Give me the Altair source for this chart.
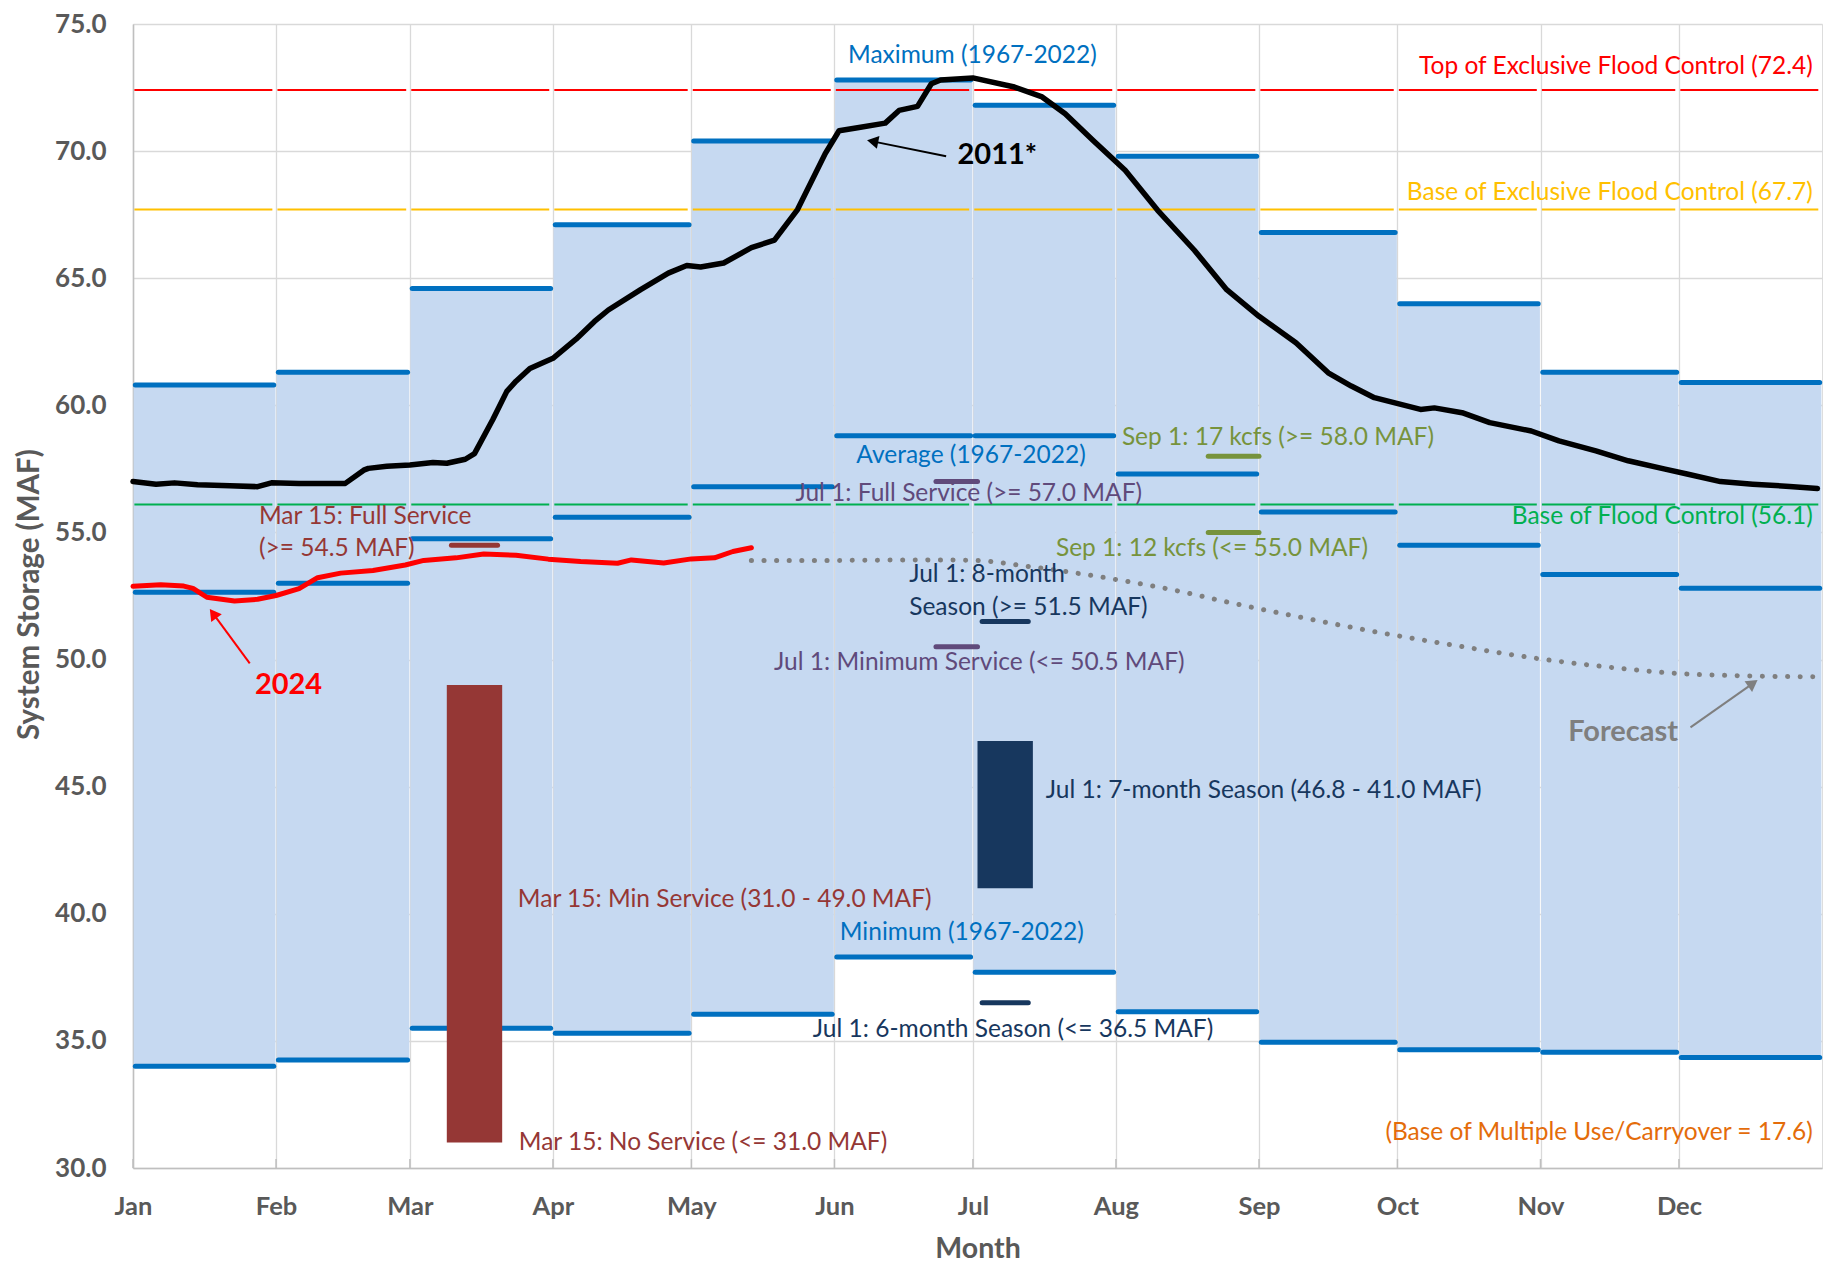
import math
import pandas as pd
import altair as alt

# ---------------- data ----------------
months = ["Jan", "Feb", "Mar", "Apr", "May", "Jun", "Jul", "Aug", "Sep", "Oct", "Nov", "Dec"]
month_starts = ["01-01", "02-01", "03-01", "04-01", "05-01", "06-01",
                "07-01", "08-01", "09-01", "10-01", "11-01", "12-01"]
max_1967_2022 = [60.8, 61.3, 64.6, 67.1, 70.4, 72.8, 71.8, 69.8, 66.8, 64.0, 61.3, 60.9]
avg_1967_2022 = [52.65, 53.0, 54.75, 55.6, 56.8, 58.8, 58.8, 57.3, 55.8, 54.5, 53.35, 52.8]
min_1967_2022 = [34.0, 34.25, 35.5, 35.3, 36.05, 38.3, 37.7, 36.15, 34.95, 34.65, 34.55, 34.35]

flood_levels = [72.4, 67.7, 56.1]
flood_names = ["Top of Exclusive Flood Control", "Base of Exclusive Flood Control", "Base of Flood Control"]

y2011_dates = ["01-01", "01-06", "01-10", "01-15", "01-22", "01-28", "01-31", "02-06", "02-16",
               "02-20", "02-21", "02-25", "03-01", "03-06", "03-09", "03-13", "03-15", "03-19",
               "03-22", "03-24", "03-27", "04-01", "04-06", "04-10", "04-13", "04-20", "04-26",
               "04-30", "05-03", "05-08", "05-14", "05-19", "05-24", "05-30", "06-02", "06-06",
               "06-12", "06-15", "06-19", "06-22", "06-24", "07-01", "07-10", "07-16", "07-21",
               "07-27", "08-03", "08-10", "08-18", "08-25", "09-01", "09-09", "09-16", "09-21",
               "09-26", "10-06", "10-09", "10-15", "10-21", "10-30", "11-05", "11-13", "11-20",
               "11-28", "12-03", "12-10", "12-17", "12-25", "12-31"]
y2011_vals = [57.0, 56.9, 56.95, 56.88, 56.84, 56.8, 56.95, 56.93, 56.93,
              57.45, 57.52, 57.6, 57.65, 57.75, 57.72, 57.88, 58.1, 59.45,
              60.55, 60.95, 61.45, 61.85, 62.6, 63.3, 63.75, 64.55, 65.2,
              65.5, 65.44, 65.6, 66.2, 66.5, 67.7, 69.9, 70.8, 70.92,
              71.1, 71.6, 71.76, 72.65, 72.8, 72.88, 72.52, 72.13, 71.47,
              70.43, 69.25, 67.68, 66.1, 64.55, 63.5, 62.46, 61.28, 60.76,
              60.3, 59.84, 59.9, 59.71, 59.32, 58.99, 58.6, 58.21, 57.82,
              57.49, 57.29, 57.0, 56.9, 56.81, 56.73]

y2024_dates = ["01-01", "01-07", "01-12", "01-14", "01-17", "01-23", "01-28", "02-01", "02-06",
               "02-10", "02-15", "02-22", "02-29", "03-04", "03-11", "03-17", "03-24", "03-31",
               "04-07", "04-15", "04-18", "04-25", "05-01", "05-06", "05-10", "05-14"]
y2024_vals = [52.88, 52.94, 52.89, 52.8, 52.45, 52.3, 52.37, 52.52, 52.79,
              53.22, 53.4, 53.5, 53.72, 53.9, 54.0, 54.15, 54.1, 53.95,
              53.86, 53.79, 53.92, 53.8, 53.96, 54.0, 54.25, 54.4]

forecast_dates = ["05-14", "06-01", "06-20", "07-01", "07-14", "07-31", "08-17", "08-23",
                  "09-09", "09-26", "10-13", "10-31", "11-17", "12-01", "12-15", "12-30"]
forecast_vals = [53.9, 53.9, 53.92, 53.9, 53.64, 53.18, 52.6, 52.35,
                 51.7, 51.1, 50.57, 50.05, 49.68, 49.45, 49.36, 49.32]

# service-level targets: (label, start, end, value, colour)
target_segments = [
    ("Mar 15: Full Service", "03-10", "03-20", 54.5, "#953735"),
    ("Jul 1: Full Service", "06-23", "07-02", 57.0, "#604A7B"),
    ("Jul 1: Minimum Service", "06-23", "07-02", 50.5, "#604A7B"),
    ("Jul 1: 8-month Season", "07-03", "07-13", 51.5, "#17375E"),
    ("Jul 1: 6-month Season", "07-03", "07-13", 36.5, "#17375E"),
    ("Sep 1: 17 kcfs", "08-21", "09-01", 58.0, "#77933C"),
    ("Sep 1: 12 kcfs", "08-21", "09-01", 55.0, "#77933C"),
]
target_bars = [
    ("Mar 15: Min Service", "03-09", "03-21", 31.0, 49.0, "#953735"),
    ("Jul 1: 7-month Season", "07-02", "07-14", 41.0, 46.8, "#17375E"),
]

# ---------------- layout constants ----------------
W, H = 1689, 1144
XD = [0, 366]
YD = [30, 75]
PX_DAY = W / (XD[1] - XD[0])
PX_MAF = H / (YD[1] - YD[0])
FONT = "Lato"
BLUE = "#0070C0"
TXT = 24.5
BOLD_TXT = 29


def doy(md):
    return pd.Timestamp(f"2024-{md}").dayofyear - 1


starts = [doy(m) for m in month_starts]
ends = starts[1:] + [366]

xs = alt.Scale(domain=XD, nice=False, zero=False)
ys = alt.Scale(domain=YD, nice=False, zero=False)

label_expr = "[" + ",".join(f"'{m}'" for m in months) + "][indexof([" + ",".join(str(s) for s in starts) + "], datum.value)]"

XAXIS = alt.Axis(values=starts, labelExpr=label_expr, title="Month", grid=True, gridColor="#D9D9D9",
                 gridWidth=1.3, domainColor="#BFBFBF", domainWidth=1.5, ticks=False, labelFlush=False,
                 labelFont=FONT, labelFontSize=25.5, labelFontWeight="bold", labelColor="#595959",
                 labelBaseline="middle", labelPadding=38, titleFont=FONT, titleFontSize=28.5,
                 titleFontWeight="bold", titleColor="#595959", titleX=W / 2, titleY=80,
                 titleBaseline="middle", titleAlign="center")
YAXIS = alt.Axis(values=list(range(30, 76, 5)), format=".1f", title="System Storage (MAF)", grid=True,
                 gridColor="#D9D9D9", gridWidth=1.3, domainColor="#BFBFBF", domainWidth=1.5, ticks=False,
                 labelFont=FONT, labelFontSize=26, labelFontWeight="bold", labelColor="#595959",
                 labelPadding=27, titleFont=FONT, titleFontSize=29.5, titleFontWeight="bold",
                 titleColor="#595959", titleX=-104, titleY=H / 2 - 2, titleAngle=270, titleAlign="center",
                 titleBaseline="middle")


def X(f):
    return alt.X(f, type="quantitative", scale=xs, axis=XAXIS)


def Y(f):
    return alt.Y(f, type="quantitative", scale=ys, axis=YAXIS)


# ---------------- tables ----------------
band = pd.DataFrame({"month": months, "s": [s + 0.13 for s in starts], "e": [e - 0.13 for e in ends],
                     "lo": min_1967_2022, "hi": max_1967_2022})

stat_rows = []
for i, m in enumerate(months):
    for kind, arr in (("max", max_1967_2022), ("avg", avg_1967_2022), ("min", min_1967_2022)):
        stat_rows.append({"month": m, "kind": kind, "s": starts[i] + 0.5, "e": ends[i] - 0.5, "v": arr[i]})
stats = pd.DataFrame(stat_rows)

flood_colors = ["#FF0000", "#FFC000", "#00B050"]
flood_rows = []
for lvl, name, col in zip(flood_levels, flood_names, flood_colors):
    for i in range(12):
        flood_rows.append({"name": name, "v": lvl, "s": starts[i] + 0.3, "e": ends[i] - 0.8, "c": col})
flood = pd.DataFrame(flood_rows)

seg = pd.DataFrame([{"name": n, "s": doy(a), "e": doy(b), "v": v, "c": c} for n, a, b, v, c in target_segments])
bars = pd.DataFrame([{"name": n, "s": doy(a), "e": doy(b), "lo": lo, "hi": hi, "c": c}
                     for n, a, b, lo, hi, c in target_bars])

s2011 = pd.DataFrame({"d": [doy(d) for d in y2011_dates], "v": y2011_vals})
s2024 = pd.DataFrame({"d": [doy(d) for d in y2024_dates], "v": y2024_vals})
sfc = pd.DataFrame({"d": [doy(d) for d in forecast_dates], "v": forecast_vals})

ticks = pd.DataFrame({"d": starts, "v": [30.0] * 12, "v2": [30.0 + 9 / PX_MAF] * 12})

# ---------------- layers ----------------
layers = []
layers.append(alt.Chart(band).mark_rect(color="#C6D9F1").encode(x=X("s"), x2="e", y=Y("lo"), y2="hi"))
layers.append(alt.Chart(ticks).mark_rule(color="#BFBFBF", strokeWidth=1.5).encode(x=X("d"), y=Y("v"), y2="v2"))
layers.append(alt.Chart(flood).mark_rule(strokeWidth=2).encode(
    x=X("s"), x2="e", y=Y("v"), color=alt.Color("c:N", scale=None)))
layers.append(alt.Chart(stats).mark_rule(strokeWidth=5, strokeCap="round", color=BLUE).encode(
    x=X("s"), x2="e", y=Y("v")))
layers.append(alt.Chart(bars).mark_rect().encode(
    x=X("s"), x2="e", y=Y("lo"), y2="hi", color=alt.Color("c:N", scale=None)))
layers.append(alt.Chart(seg).mark_rule(strokeWidth=5, strokeCap="round").encode(
    x=X("s"), x2="e", y=Y("v"), color=alt.Color("c:N", scale=None)))
layers.append(alt.Chart(sfc).mark_line(color="#7F7F7F", strokeWidth=5, strokeDash=[0.1, 12.5],
                                       strokeCap="round", interpolate="monotone").encode(x=X("d"), y=Y("v")))
layers.append(alt.Chart(s2011).mark_line(color="black", strokeWidth=5.5, strokeJoin="round",
                                         strokeCap="round").encode(x=X("d"), y=Y("v")))
layers.append(alt.Chart(s2024).mark_line(color="#FF0000", strokeWidth=5, strokeJoin="round",
                                         strokeCap="round").encode(x=X("d"), y=Y("v")))

# arrows: (from x,y) -> (tip x,y)
arrows = [
    ((176.2, 69.8), (159.0, 70.43), "black"),
    ((25.3, 49.85), (16.6, 52.0), "#FF0000"),
    ((337.5, 47.33), (352.1, 49.2), "#7F7F7F"),
]
arr_rows, head_rows = [], []
for (x0, y0), (x1, y1), col in arrows:
    dx = (x1 - x0) * PX_DAY
    dy = -(y1 - y0) * PX_MAF
    L = math.hypot(dx, dy)
    ux, uy = dx / L, dy / L
    back = 6.0
    hx = x1 - ux * back / PX_DAY
    hy = y1 + uy * back / PX_MAF
    ang = math.degrees(math.atan2(dx, -dy)) % 360
    arr_rows.append({"x": x0, "y": y0, "x2": hx, "y2": hy, "c": col})
    head_rows.append({"x": hx, "y": hy, "a": ang, "c": col})
layers.append(alt.Chart(pd.DataFrame(arr_rows)).mark_rule(strokeWidth=2).encode(
    x=X("x"), x2="x2", y=Y("y"), y2="y2", color=alt.Color("c:N", scale=None)))
layers.append(alt.Chart(pd.DataFrame(head_rows)).mark_point(shape="triangle-up", filled=True, size=170,
                                                            opacity=1).encode(
    x=X("x"), y=Y("y"), angle=alt.Angle("a:Q", scale=None), color=alt.Color("c:N", scale=None)))

# annotations: text, x (day of year), y (MAF), color, align, bold
annotations = [
    ("Maximum (1967-2022)", 181.9, 73.76, BLUE, "center", False),
    ("Top of Exclusive Flood Control (72.4)", 364.0, 73.3, "#FF0000", "right", False),
    ("Base of Exclusive Flood Control (67.7)", 364.0, 68.34, "#FFC000", "right", False),
    ("2011*", 187.3, 69.84, "#000000", "center", True),
    ("Average (1967-2022)", 181.6, 58.01, BLUE, "center", False),
    ("Jul 1: Full Service (>= 57.0 MAF)", 181.1, 56.51, "#604A7B", "center", False),
    ("Sep 1: 17 kcfs (>= 58.0 MAF)", 248.1, 58.73, "#77933C", "center", False),
    ("Sep 1: 12 kcfs (<= 55.0 MAF)", 233.8, 54.35, "#77933C", "center", False),
    ("Base of Flood Control (56.1)", 364.0, 55.6, "#00B050", "right", False),
    ("Mar 15: Full Service", 27.3, 55.6, "#953735", "left", False),
    ("(>= 54.5 MAF)", 27.3, 54.35, "#953735", "left", False),
    ("Jul 1: 8-month", 168.2, 53.31, "#17375E", "left", False),
    ("Season (>= 51.5 MAF)", 168.2, 52.03, "#17375E", "left", False),
    ("Jul 1: Minimum Service (<= 50.5 MAF)", 183.4, 49.85, "#604A7B", "center", False),
    ("2024", 33.7, 49.0, "#FF0000", "center", True),
    ("Forecast", 322.9, 47.17, "#7F7F7F", "center", True),
    ("Jul 1: 7-month Season (46.8 - 41.0 MAF)", 197.8, 44.82, "#17375E", "left", False),
    ("Mar 15: Min Service (31.0 - 49.0 MAF)", 83.4, 40.53, "#953735", "left", False),
    ("Minimum (1967-2022)", 179.6, 39.26, BLUE, "center", False),
    ("Jul 1: 6-month Season (<= 36.5 MAF)", 190.7, 35.41, "#17375E", "center", False),
    ("Mar 15: No Service (<= 31.0 MAF)", 83.6, 30.97, "#953735", "left", False),
    ("(Base of Multiple Use/Carryover = 17.6)", 364.0, 31.36, "#E46C0A", "right", False),
]
ann = pd.DataFrame(annotations, columns=["t", "x", "y", "c", "align", "bold"])
for align in ("left", "center", "right"):
    for bold in (False, True):
        sub = ann[(ann["align"] == align) & (ann["bold"] == bold)]
        if len(sub) == 0:
            continue
        layers.append(alt.Chart(sub).mark_text(
            align=align, baseline="middle", font=FONT, fontWeight="bold" if bold else "normal",
            fontSize=BOLD_TXT if bold else TXT).encode(
            x=X("x"), y=Y("y"), text="t:N", color=alt.Color("c:N", scale=None)))

chart = alt.layer(*layers).properties(
    width=W, height=H,
    autosize=alt.AutoSizeParams(type="none"),
    padding={"left": 125, "top": 16, "right": 10, "bottom": 98},
).configure_view(stroke=None).configure(background="white")

chart.save("out.html", embed_options={"renderer": "svg", "actions": False})
